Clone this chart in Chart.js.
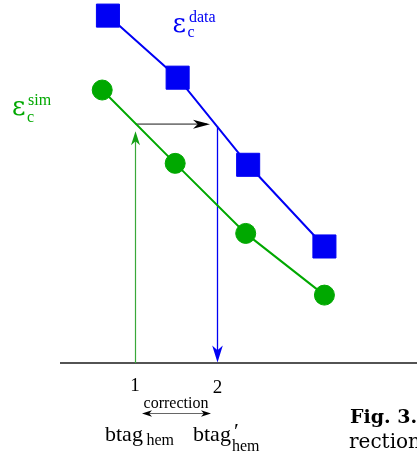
<!DOCTYPE html>
<html>
<head>
<meta charset="utf-8">
<style>
  html, body { margin: 0; padding: 0; background: #fff; }
  canvas { display: block; }
</style>
<script src="https://cdn.jsdelivr.net/npm/chart.js@4/dist/chart.umd.min.js"></script>
</head>
<body>
<canvas id="c" width="417" height="456"></canvas>
<script>
// b-tag hemisphere cut values and the charm efficiency at each cut
const simCut  = [0.60, 1.49, 2.35, 3.31];
const simEff  = [0.752, 0.550, 0.357, 0.187];
const dataCut = [0.67, 1.52, 2.38, 3.31];
const dataEff = [0.957, 0.786, 0.546, 0.321];

// axis ticks and the correction step (btag_hem -> btag'_hem)
const tickValues = [1, 2];
const tickLabels = ['1', '2'];
const corrFrom = 1;
const corrTo = 2;
const corrLevel = 0.658;
const axisStart = 0.085;

const BLUE = '#0000f4';
const GREEN = '#00a800';
const SERIF = '"Liberation Serif", "DejaVu Serif", serif';
const WIDE_SERIF = '"DejaVu Serif", "Liberation Serif", serif';

function stealthHead(ctx, tx, ty, ang, len, hw, color) {
  ctx.save();
  ctx.translate(tx, ty);
  ctx.rotate(ang);
  ctx.beginPath();
  ctx.moveTo(0, 0);
  ctx.lineTo(-len, -hw);
  ctx.lineTo(-len * 0.72, 0);
  ctx.lineTo(-len, hw);
  ctx.closePath();
  ctx.fillStyle = color;
  ctx.fill();
  ctx.restore();
}

function line(ctx, x1, y1, x2, y2, color, w) {
  ctx.beginPath();
  ctx.moveTo(x1, y1);
  ctx.lineTo(x2, y2);
  ctx.strokeStyle = color;
  ctx.lineWidth = w;
  ctx.stroke();
}

function text(ctx, s, x, y, font, color, align) {
  ctx.font = font;
  ctx.fillStyle = color;
  ctx.textAlign = align || 'left';
  ctx.textBaseline = 'alphabetic';
  ctx.fillText(s, x, y);
}

const decorations = {
  id: 'decorations',
  beforeDatasetsDraw(chart) {
    const ctx = chart.ctx;
    const xs = chart.scales.x, ys = chart.scales.y;
    const y0 = ys.getPixelForValue(0);
    const yl = ys.getPixelForValue(corrLevel);
    const x1 = xs.getPixelForValue(corrFrom);
    const x2 = xs.getPixelForValue(corrTo);
    ctx.save();
    // baseline axis
    line(ctx, xs.getPixelForValue(axisStart), y0, chart.chartArea.right + 2, y0, '#1a1a1a', 1.5);
    // green: up from the cut on the simulation
    line(ctx, x1 + 0.5, y0, x1 + 0.5, yl + 12, '#3aa83a', 1.2);
    stealthHead(ctx, x1 + 0.5, yl + 7, -Math.PI / 2, 14, 4.5, '#12a012');
    // across to the data curve
    line(ctx, x1 + 0.5, yl, x2 - 10, yl, '#7a7a7a', 1.8);
    stealthHead(ctx, x2 - 7, yl, 0, 17, 4.5, '#000');
    // down to the corrected cut
    line(ctx, x2 + 0.5, yl + 2, x2 + 0.5, y0 - 6, BLUE, 1.3);
    stealthHead(ctx, x2 + 0.5, y0 - 0.5, Math.PI / 2, 17, 5.3, BLUE);
    ctx.restore();
  },
  afterDraw(chart) {
    const ctx = chart.ctx;
    const xs = chart.scales.x, ys = chart.scales.y;
    const y0 = ys.getPixelForValue(0);
    ctx.save();
    // tick labels
    tickValues.forEach((v, i) => {
      text(ctx, tickLabels[i], xs.getPixelForValue(v) + (i ? 0.5 : 0), y0 + 28 + (i ? 2 : 0), '19px ' + SERIF, '#000', 'center');
    });
    // correction arrow between the two cuts
    const a = xs.getPixelForValue(corrFrom) + 7;
    const b = xs.getPixelForValue(corrTo) - 6;
    const yc = y0 + 50.5;
    text(ctx, 'correction', (a + b) / 2 - 0.5, y0 + 45, '16px ' + SERIF, '#000', 'center');
    line(ctx, a + 6, yc, b - 6, yc, '#666', 1.2);
    stealthHead(ctx, b, yc, 0, 10, 3.2, '#000');
    stealthHead(ctx, a, yc, Math.PI, 10, 3.2, '#000');
    // hemisphere b-tag names
    text(ctx, 'btag', 105, y0 + 77.5, '22px ' + SERIF, '#000');
    text(ctx, 'hem', 146.5, y0 + 82, '16px ' + SERIF, '#000');
    text(ctx, 'btag', 193, y0 + 77.5, '22px ' + SERIF, '#000');
    text(ctx, '\u2032', 234, y0 + 75, '22px ' + SERIF, '#000');
    text(ctx, 'hem', 232, y0 + 88, '16px ' + SERIF, '#000');
    // series names
    text(ctx, '\u03b5', 172.5, 32, '26px ' + WIDE_SERIF, BLUE);
    text(ctx, 'c', 187.5, 36.5, '16px ' + SERIF, BLUE);
    text(ctx, 'data', 189, 22, '16px ' + SERIF, BLUE);
    text(ctx, '\u03b5', 12, 114.5, '26px ' + WIDE_SERIF, GREEN);
    text(ctx, 'c', 27, 121.5, '16px ' + SERIF, GREEN);
    text(ctx, 'sim', 28, 104.5, '16px ' + SERIF, GREEN);
    // caption fragment
    text(ctx, 'Fig. 3.', 350, 423, 'bold 19px ' + WIDE_SERIF, '#000');
    text(ctx, 'rection', 349, 448, '20px ' + WIDE_SERIF, '#000');
    ctx.restore();
  }
};

new Chart(document.getElementById('c'), {
  type: 'scatter',
  data: {
    datasets: [
      {
        label: 'data',
        data: dataCut.map((x, i) => ({ x, y: dataEff[i] })),
        showLine: true,
        borderColor: BLUE,
        borderWidth: 2,
        backgroundColor: BLUE,
        pointStyle: 'rect',
        pointRadius: 16.3,
        pointBorderWidth: 1,
        pointBorderColor: BLUE,
        pointHoverRadius: 16.3,
        clip: false
      },
      {
        label: 'sim',
        data: simCut.map((x, i) => ({ x, y: simEff[i] })),
        showLine: true,
        borderColor: GREEN,
        borderWidth: 2,
        backgroundColor: GREEN,
        pointStyle: 'circle',
        pointRadius: 10,
        pointBorderWidth: 1,
        pointBorderColor: GREEN,
        pointHoverRadius: 10,
        clip: false
      }
    ]
  },
  options: {
    responsive: false,
    animation: false,
    events: [],
    layout: { autoPadding: false, padding: { left: 53, right: 0, top: 0, bottom: 93 } },
    plugins: { legend: { display: false }, tooltip: { enabled: false } },
    scales: {
      x: { type: 'linear', display: false, min: 0, max: 364 / 82 },
      y: { type: 'linear', display: false, min: 0, max: 1 }
    }
  },
  plugins: [decorations]
});
</script>
</body>
</html>
